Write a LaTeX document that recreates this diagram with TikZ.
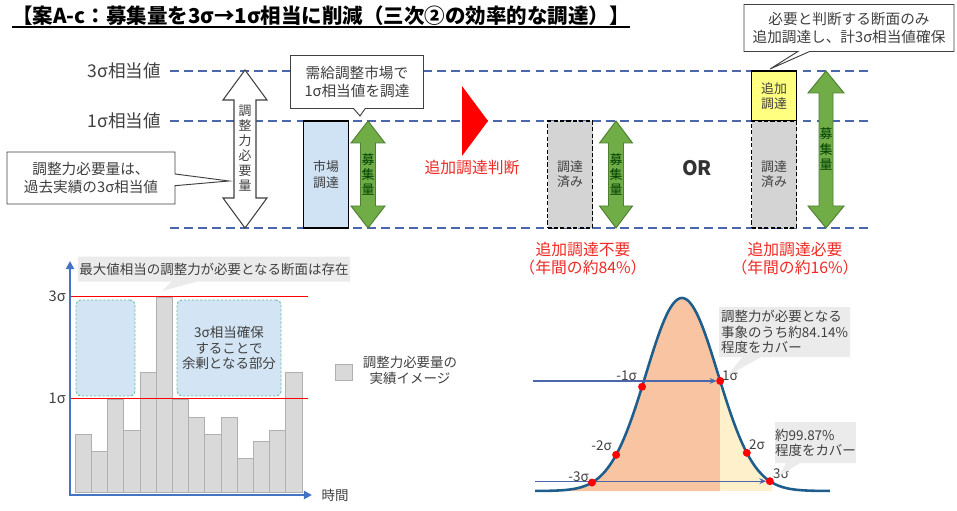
\documentclass[tikz,border=0pt]{standalone}
\usepackage{fontspec}
\setmainfont{Noto Sans CJK JP}
\usetikzlibrary{shapes.callouts,arrows.meta}

\definecolor{sigblue}{HTML}{4A67AC}
\definecolor{axisblue}{HTML}{4472C4}
\definecolor{arrowgreen}{HTML}{70AD47}
\definecolor{arrowgreendk}{HTML}{507E32}
\definecolor{txtgray}{HTML}{404040}
\definecolor{mktblue}{HTML}{D0E3F5}
\definecolor{donegray}{HTML}{D4D4D4}
\definecolor{addyellow}{HTML}{FFFF80}
\definecolor{callgray}{HTML}{EBEBEB}
\definecolor{surplus}{HTML}{D3E5F4}
\definecolor{surplusbd}{HTML}{63BFA0}
\definecolor{barfill}{HTML}{D9D9D9}
\definecolor{barline}{HTML}{B0B0B0}
\definecolor{bellorange}{HTML}{F8C4A2}
\definecolor{bellyellow}{HTML}{FFF0CC}
\definecolor{bellline}{HTML}{1F5E8C}
\definecolor{redtxt}{HTML}{EE2A24}

\newcommand{\pxu}{0.03cm}
\newcommand{\sz}[2]{\fontsize{#1}{#2}\selectfont}
% up-down block arrow: style, x, top, bottom, head half width, shaft half width, head length
\newcommand{\updown}[7]{%
  \filldraw[#1] (#2,#3) -- ({#2+#5},{#3+#7}) -- ({#2+#6},{#3+#7}) -- ({#2+#6},{#4-#7})
    -- ({#2+#5},{#4-#7}) -- (#2,#4) -- ({#2-#5},{#4-#7}) -- ({#2-#6},{#4-#7})
    -- ({#2-#6},{#3+#7}) -- ({#2-#5},{#3+#7}) -- cycle;}

\begin{document}
\begin{tikzpicture}[x=0.03cm, y=-0.03cm,
    sigline/.style={sigblue, line width=1.7pt, dash pattern=on 7.5pt off 4.5pt},
    lvlabel/.style={font=\sz{15pt}{18pt}, text=txtgray, inner sep=0},
    notebox/.style={rectangle callout, draw=txtgray, line width=0.8pt, fill=white, text=txtgray,
      align=center, inner sep=0, font=\sz{12.5pt}{15.5pt}, callout pointer width=10pt},
    graynote/.style={rectangle callout, fill=callgray, text=txtgray, inner sep=0, font=\sz{11.5pt}{13pt}},
    vtext/.style={align=center, inner sep=0, font=\sz{11pt}{12.9pt}, text=txtgray},
    gtext/.style={vtext, text=green!25!black},
    boxtext/.style={align=center, inner sep=0, font=\sz{11pt}{13pt}, text=txtgray, line width=0.9pt},
    donebox/.style={boxtext, draw=black, fill=donegray, dash pattern=on 3.5pt off 2pt},
    redlbl/.style={text=redtxt, align=center, inner sep=0, font=\sz{13.5pt}{15.4pt}},
    greenarrow/.style={fill=arrowgreen, draw=arrowgreendk, line width=0.8pt},
    bar/.style={fill=barfill, draw=barline, line width=0.5pt},
    surplusbox/.style={fill=surplus, draw=surplusbd, dash pattern=on 2pt off 1.5pt, line width=0.8pt,
      rounded corners=4pt, align=center, inner sep=0, text=txtgray, font=\sz{11.5pt}{13.2pt}},
    axis/.style={axisblue, line width=2.4pt},
    siglbl/.style={inner sep=0, text=txtgray, font=\sz{11.5pt}{13pt}},
    bellarrow/.style={sigblue, line width=1pt, -{Stealth[length=6pt,width=5pt]}}]
\useasboundingbox (0,0) rectangle (957,511);

% title
\node[anchor=base west, inner sep=0, font=\sz{17.5pt}{21pt}\bfseries] (title) at (12,24)
  {【案A-c：募集量を3σ→1σ相当に削減（三次②の効率的な調達）】};
\draw[line width=1.2pt] ([yshift=-2.5pt]title.base west) -- ([yshift=-2.5pt]title.base east);

% sigma levels
\foreach \lv/\yy in {s3/71, s1/121, s0/228} {
  \coordinate (\lv-l) at (170,\yy);
  \coordinate (\lv-r) at (868,\yy);
  \draw[sigline] (\lv-l) -- (\lv-r);
}
\node[lvlabel, anchor=east] (s3txt) at (161,71) {3σ相当値};
\node[lvlabel, anchor=east] (s1txt) at (161,121) {1σ相当値};

% required amount
\updown{draw=txtgray, fill=white, line width=0.9pt}{245}{70}{228}{22}{11}{30}
\node[vtext] (needtxt) at (245,148) {調\\整\\力\\必\\要\\量};
\node[notebox, minimum width=168*\pxu, minimum height=52*\pxu, callout absolute pointer={(229,181)}]
  (neednote) at (91,178) {調整力必要量は、\\過去実績の3σ相当値};

% market procurement
\node[boxtext, draw=black, fill=mktblue, minimum width=45*\pxu, minimum height=107*\pxu]
  (mkt) at (326,174.5) {市場\\調達};
\updown{greenarrow}{368}{121}{228}{17}{7.5}{22}
\node[gtext] (rec1) at (368,174.5) {募\\集\\量};
\node[notebox, minimum width=133*\pxu, minimum height=53*\pxu, callout absolute pointer={(360,116)}]
  (mktnote) at (357,82) {需給調整市場で\\1σ相当値を調達};

% decision
\fill[red] (462,86) -- (488,121) -- (462,156) -- cycle;
\node[redlbl] (judge) at (472,168) {追加調達判断};

% case: no additional procurement
\node[donebox, minimum width=45*\pxu, minimum height=107*\pxu] (done1) at (570,174.5) {調達\\済み};
\updown{greenarrow}{616}{121}{228}{16.5}{7.5}{22}
\node[gtext] (rec2) at (616,174.5) {募\\集\\量};
\node[redlbl] (noadd) at (583,259) {追加調達不要\\（年間の約84\%）};

\node[inner sep=0, font=\sz{17pt}{20pt}\bfseries, text=black!80] (or) at (697,168) {OR};

% case: additional procurement
\node[boxtext, draw=black, fill=addyellow, minimum width=45*\pxu, minimum height=50*\pxu]
  (add) at (774,96) {追加\\調達};
\node[donebox, minimum width=45*\pxu, minimum height=107*\pxu] (done2) at (774,174.5) {調達\\済み};
\updown{greenarrow}{826}{71}{228}{18}{7}{22}
\node[gtext] (rec3) at (826,149) {募\\集\\量};
\node[redlbl] (needadd) at (795,259) {追加調達必要\\（年間の約16\%）};
\node[notebox, minimum width=210*\pxu, minimum height=47*\pxu, callout absolute pointer={(770,69)}]
  (addnote) at (849,28) {必要と判断する断面のみ\\追加調達し、計3σ相当値確保};

% record chart
\foreach \h [count=\i from 0] in {434,451,399,430,372,297,399,417,434,417,458,441,430,372}
  \draw[bar] ({75+16.2*\i},492) rectangle ({91.2+16.2*\i},\h);
\draw[red, line width=0.8pt] (70,296) -- (308,296);
\draw[red, line width=0.8pt] (70,398) -- (308,398);
\node[surplusbox, minimum width=59*\pxu, minimum height=96*\pxu] (sur1) at (105.5,348) {};
\node[surplusbox, minimum width=104*\pxu, minimum height=96*\pxu] (sur2) at (229,348)
  {3σ相当確保\\することで\\余剰となる部分};
\coordinate (origin) at (70,495);
\coordinate (ytip) at (70,261);
\coordinate (xtip) at (312,495);
\draw[axis, {Triangle[length=7pt,width=7pt]}-{Triangle[length=7pt,width=7pt]}] (ytip) -- (origin) -- (xtip);
\node[siglbl, anchor=east, font=\sz{12.5pt}{14pt}] (c3) at (66,296) {3σ};
\node[siglbl, anchor=east, font=\sz{12.5pt}{14pt}] (c1) at (66,398) {1σ};
\node[siglbl, font=\sz{11.5pt}{14pt}] (timetxt) at (335,495) {時間};
\node[graynote, minimum width=272*\pxu, minimum height=25*\pxu, callout pointer width=22pt,
  callout absolute pointer={(162,291)}] (maxnote) at (214,269) {最大値相当の調整力が必要となる断面は存在};
\node[bar, minimum width=17*\pxu, minimum height=16*\pxu, inner sep=0] (legbox) at (343.5,372) {};
\node[siglbl, align=center, font=\sz{11.5pt}{13.5pt}] (legtxt) at (410,370) {調整力必要量の\\実績イメージ};

% normal distribution
\fill[bellorange] (535,491) -- plot[domain=-4.08:1.06, samples=80, variable=\t]
  ({682+36*\t},{491-193*exp(-0.5*(\t)*(\t))}) -- (720.2,491) -- cycle;
\fill[bellyellow] (720.2,491) -- plot[domain=1.06:2.5, samples=40, variable=\t]
  ({682+36*\t},{491-193*exp(-0.5*(\t)*(\t))}) -- (772,491) -- cycle;
\draw[bellline, line width=2.2pt] plot[domain=-4.08:4.11, samples=140, variable=\t]
  ({682+36*\t},{491-193*exp(-0.5*(\t)*(\t))});
\foreach \nm/\sv in {m3/-2.5, m2/-1.83, m1/-1.11, p1/1.06, p2/1.8, p3/2.44}
  \coordinate (\nm) at ({682+36*(\sv)},{491-193*exp(-0.5*(\sv)*(\sv))});
\coordinate (a1) at (533,0);
\coordinate (a3) at (535,0);
\draw[bellarrow, shorten >=3pt] (a1 |- p1) -- (p1);
\draw[bellarrow, shorten >=3pt] (a3 |- p3) -- (p3);
\foreach \nm in {m3,m2,m1,p1,p2,p3}
  \fill[red] (\nm) circle (3.4pt);
\node[siglbl, anchor=east] (m1txt) at (637,376) {-1σ};
\node[siglbl, anchor=west] (p1txt) at (722,376) {1σ};
\node[siglbl, anchor=east] (m2txt) at (612,446) {-2σ};
\node[siglbl, anchor=west] (p2txt) at (749,445) {2σ};
\node[siglbl, anchor=east] (m3txt) at (589,477) {-3σ};
\node[siglbl, anchor=west] (p3txt) at (773,474) {3σ};
\node[graynote, align=left, minimum width=131*\pxu, minimum height=50*\pxu, callout pointer width=16pt,
  callout absolute pointer={(727,376)}] (cover1) at (784.5,332)
  {調整力が必要となる\\事象のうち約84.14\%\\程度をカバー};
\node[graynote, align=left, minimum width=75*\pxu, minimum height=41*\pxu, callout pointer width=12pt,
  callout absolute pointer={(779,476)}] (cover2) at (815.5,442.5)
  {約99.87\%\\程度をカバー};
\end{tikzpicture}
\end{document}
